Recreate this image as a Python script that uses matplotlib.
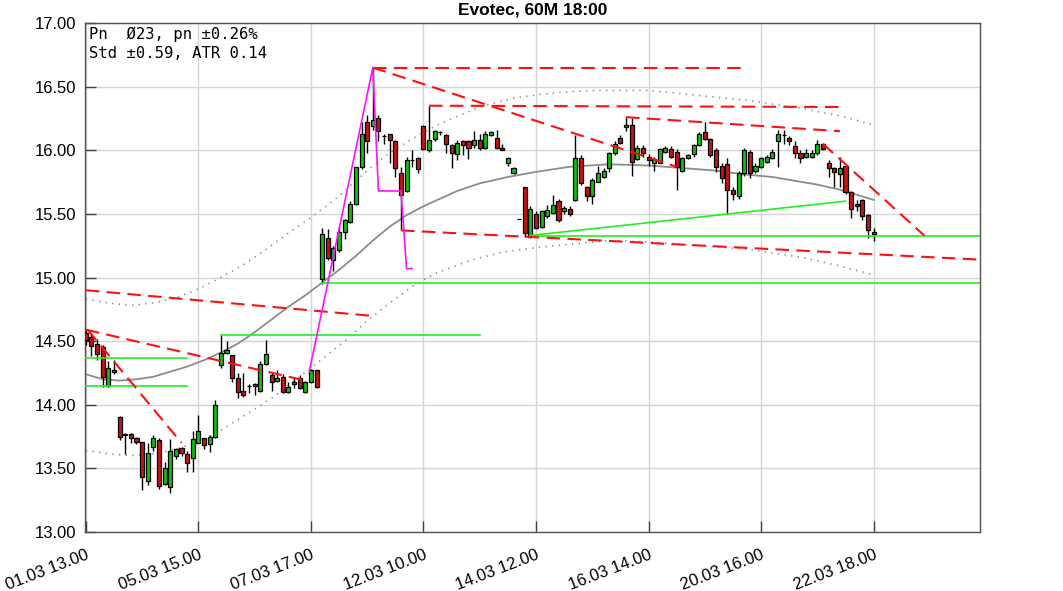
import numpy as np
import matplotlib
matplotlib.use("Agg")
import matplotlib.pyplot as plt
from matplotlib.ticker import FormatStrFormatter

# ============================================================
# DATA (hourly candles, bar index 0 = 01.03 13:00)
# ============================================================

opens = [
    14.56, 14.53, 14.48, 14.45, 14.15, 14.26, 13.90, 13.77, 13.77, 13.74,
    13.71, 13.40, 13.67, 13.72, 13.38, 13.35, 13.60, 13.66, 13.61, 13.58,
    13.70, 13.74, 13.69, 13.75, 14.31, 14.41, 14.39, 14.21, 14.11, 14.15,
    14.15, 14.11, 14.32, 14.23, 14.19, 14.22, 14.10, 14.16, 14.21, 14.10,
    14.18, 14.27, 14.99, 15.31, 15.14, 15.22, 15.36, 15.44, 15.58, 15.87,
    16.22, 16.19, 16.25, 16.11, 16.13, 16.07, 15.82, 15.68, 15.92, 15.94,
    16.19, 16.00, 16.09, 16.14, 16.12, 16.04, 15.97, 16.07, 16.07, 16.04,
    16.08, 16.02, 16.12, 16.10, 16.02, 15.90, 15.82, 15.46, 15.71, 15.32,
    15.50, 15.40, 15.48, 15.51, 15.60, 15.52, 15.54, 15.61, 15.94, 15.71,
    15.64, 15.75, 15.79, 15.86, 15.98, 16.10, 16.18, 16.20, 15.93, 16.02,
    15.95, 15.90, 15.90, 15.99, 16.01, 15.99, 15.84, 15.94, 15.97, 16.04,
    16.14, 16.09, 16.00, 15.88, 15.89, 15.69, 15.64, 15.82, 15.99, 15.84,
    15.87, 15.91, 15.94, 16.07, 16.12, 16.10, 16.03, 15.98, 15.95, 15.95,
    15.98, 16.05, 15.90, 15.86, 15.81, 15.88, 15.67, 15.58, 15.61, 15.49,
    15.34,
]
highs = [
    14.59, 14.56, 14.52, 14.47, 14.34, 14.35, 13.91, 13.78, 13.78, 13.75,
    13.71, 13.70, 13.76, 13.74, 13.55, 13.73, 13.66, 13.67, 13.64, 13.79,
    13.92, 13.74, 13.76, 14.04, 14.55, 14.50, 14.39, 14.25, 14.25, 14.16,
    14.17, 14.34, 14.51, 14.25, 14.27, 14.24, 14.18, 14.22, 14.23, 14.19,
    14.28, 14.27, 15.39, 15.38, 15.25, 15.40, 15.46, 15.60, 15.87, 16.22,
    16.28, 16.65, 16.28, 16.13, 16.13, 16.08, 15.87, 15.95, 16.00, 15.95,
    16.20, 16.35, 16.16, 16.15, 16.13, 16.05, 16.08, 16.08, 16.08, 16.15,
    16.13, 16.15, 16.15, 16.16, 16.05, 15.95, 15.87, 15.46, 15.71, 15.56,
    15.52, 15.53, 15.57, 15.65, 15.62, 15.56, 15.56, 16.12, 15.96, 15.72,
    15.78, 15.88, 15.86, 15.99, 16.07, 16.12, 16.26, 16.25, 16.04, 16.04,
    15.97, 15.95, 16.02, 16.03, 16.03, 16.01, 15.95, 15.97, 16.05, 16.14,
    16.22, 16.10, 16.02, 15.90, 15.94, 15.71, 15.84, 16.02, 16.00, 15.90,
    15.95, 15.96, 16.01, 16.16, 16.16, 16.11, 16.07, 16.00, 16.01, 16.00,
    16.08, 16.06, 15.92, 15.87, 15.95, 15.88, 15.68, 15.61, 15.62, 15.50,
    15.39,
]
lows = [
    14.47, 14.38, 14.35, 14.14, 14.14, 14.24, 13.72, 13.61, 13.70, 13.69,
    13.33, 13.37, 13.64, 13.34, 13.37, 13.31, 13.57, 13.60, 13.47, 13.47,
    13.70, 13.65, 13.63, 13.74, 14.29, 14.40, 14.18, 14.05, 14.06, 14.09,
    14.08, 14.10, 14.31, 14.11, 14.18, 14.09, 14.09, 14.13, 14.12, 14.09,
    14.17, 14.13, 14.95, 15.14, 15.05, 15.20, 15.30, 15.43, 15.57, 15.85,
    15.98, 16.16, 16.07, 16.05, 15.90, 15.79, 15.37, 15.67, 15.87, 15.82,
    16.00, 15.99, 16.07, 16.12, 15.98, 15.86, 15.92, 15.96, 15.93, 16.02,
    16.00, 16.01, 16.11, 16.01, 16.00, 15.88, 15.81, 15.46, 15.32, 15.31,
    15.38, 15.39, 15.47, 15.50, 15.44, 15.50, 15.48, 15.60, 15.73, 15.60,
    15.58, 15.75, 15.78, 15.83, 15.96, 16.05, 16.15, 15.80, 15.92, 15.95,
    15.88, 15.84, 15.90, 15.98, 15.94, 15.69, 15.83, 15.93, 15.95, 16.03,
    16.08, 15.95, 15.83, 15.74, 15.50, 15.61, 15.62, 15.80, 15.78, 15.82,
    15.86, 15.90, 15.93, 15.87, 16.05, 16.04, 15.94, 15.90, 15.94, 15.94,
    15.96, 16.00, 15.79, 15.71, 15.71, 15.66, 15.47, 15.52, 15.45, 15.31,
    15.29,
]
closes = [
    14.51, 14.46, 14.40, 14.22, 14.29, 14.27, 13.75, 13.76, 13.74, 13.71,
    13.43, 13.62, 13.74, 13.36, 13.50, 13.64, 13.65, 13.62, 13.54, 13.73,
    13.79, 13.68, 13.75, 14.00, 14.41, 14.43, 14.21, 14.10, 14.08, 14.15,
    14.16, 14.32, 14.40, 14.18, 14.21, 14.10, 14.14, 14.18, 14.13, 14.18,
    14.27, 14.14, 15.34, 15.15, 15.23, 15.36, 15.45, 15.58, 15.87, 16.13,
    16.07, 16.24, 16.15, 16.11, 16.08, 15.86, 15.65, 15.92, 15.92, 15.85,
    16.01, 16.08, 16.15, 16.14, 16.05, 15.98, 16.06, 16.04, 16.02, 16.08,
    16.02, 16.13, 16.14, 16.02, 16.00, 15.94, 15.86, 15.46, 15.35, 15.54,
    15.39, 15.52, 15.53, 15.57, 15.45, 15.55, 15.50, 15.94, 15.74, 15.64,
    15.77, 15.82, 15.84, 15.98, 16.05, 16.06, 16.20, 15.91, 16.02, 15.98,
    15.92, 15.93, 16.01, 16.02, 15.95, 15.87, 15.94, 15.96, 16.04, 16.13,
    16.09, 15.96, 15.87, 15.78, 15.69, 15.66, 15.82, 16.00, 15.82, 15.88,
    15.94, 15.95, 15.99, 16.13, 16.12, 16.07, 15.98, 15.94, 15.98, 15.98,
    16.05, 16.01, 15.86, 15.83, 15.86, 15.67, 15.54, 15.56, 15.48, 15.37,
    15.36,
]

tick_bars = [0, 20, 40, 60, 80, 100, 120, 140]
tick_labels = [
    "01.03 13.00", "05.03 15.00", "07.03 17.00", "12.03 10.00",
    "14.03 12.00", "16.03 14.00", "20.03 16.00", "22.03 18.00",
]

# smoothed average and its +/- std band, read at a few bars
ma_bars = [0, 3, 6, 9, 12, 15, 18, 21, 24, 27, 30, 33, 36, 39, 42, 45, 48,
           51, 54, 57, 60, 63, 66, 70, 75, 80, 86, 93, 100, 106, 112, 117,
           122, 126, 130, 134, 137, 140]
ma_vals = [14.24, 14.20, 14.19, 14.20, 14.22, 14.26, 14.30, 14.35, 14.41,
           14.48, 14.57, 14.67, 14.77, 14.86, 14.96, 15.06, 15.17, 15.29,
           15.40, 15.49, 15.56, 15.62, 15.68, 15.74, 15.79, 15.83, 15.87,
           15.89, 15.88, 15.86, 15.84, 15.81, 15.79, 15.76, 15.73, 15.69,
           15.65, 15.61]

upper_bars = [0, 4, 8, 12, 16, 20, 24, 28, 32, 36, 40, 45, 50, 54, 58, 63,
              70, 76, 81, 86, 91, 100, 109, 118, 127, 134, 140]
upper_vals = [14.83, 14.80, 14.78, 14.80, 14.84, 14.91, 15.00, 15.10, 15.22,
              15.35, 15.47, 15.64, 15.84, 15.98, 16.09, 16.21, 16.34, 16.41,
              16.44, 16.46, 16.47, 16.47, 16.43, 16.39, 16.33, 16.27, 16.20]

lower_bars = [0, 5, 9, 13, 16, 20, 24, 28, 33, 38, 42, 46, 50, 54, 58, 62,
              68, 74, 81, 93, 100, 109, 118, 127, 134, 140]
lower_vals = [13.64, 13.61, 13.60, 13.62, 13.65, 13.71, 13.80, 13.91, 14.05,
              14.22, 14.36, 14.50, 14.66, 14.80, 14.93, 15.03, 15.13, 15.20,
              15.24, 15.29, 15.28, 15.25, 15.22, 15.16, 15.09, 15.02]

# trend lines: (bar0, price0, bar1, price1)
red_lines = [
    (0, 14.90, 50.5, 14.70),
    (0, 14.59, 39, 14.19),
    (0.3, 14.59, 17, 13.70),
    (51, 16.65, 116.5, 16.65),
    (51, 16.65, 105, 15.87),
    (61, 16.35, 134, 16.34),
    (96, 16.26, 134, 16.15),
    (131, 16.05, 149, 15.33),
    (56, 15.37, 159, 15.14),
]
green_lines = [
    (0, 14.37, 18, 14.37),
    (0, 14.15, 18, 14.15),
    (24, 14.55, 70, 14.55),
    (42, 14.96, 159, 14.96),
    (79, 15.33, 159, 15.33),
    (79, 15.33, 135, 15.60),
]
zigzag_bars = [39.7, 51, 52, 56, 57, 58]
zigzag_vals = [14.26, 16.65, 15.68, 15.68, 15.07, 15.07]


# ============================================================
# FIGURE
# ============================================================

fig = plt.figure(figsize=(10.63, 5.91), dpi=100)
ax = fig.add_axes([85 / 1063, 59 / 591, 895 / 1063, 509 / 591])

ax.set_xlim(-0.15, 158.9)
ax.set_ylim(13.0, 17.0)
ax.set_yticks(np.arange(13.0, 17.01, 0.5))
ax.yaxis.set_major_formatter(FormatStrFormatter("%.2f"))
ax.set_xticks(tick_bars)
ax.set_xticklabels(
    tick_labels, rotation=21, ha="right", rotation_mode="anchor",
    family=["Liberation Sans Narrow", "Liberation Sans", "DejaVu Sans"],
    fontsize=12,
)
for lab in ax.get_yticklabels():
    lab.set_family(["Liberation Sans", "DejaVu Sans"])
    lab.set_fontsize(12)

ax.tick_params(direction="in", length=8, width=1, color="#404040")
ax.tick_params(axis="x", pad=11)
ax.tick_params(axis="y", pad=6)
ax.grid(True, color="#d4d4d4", linewidth=1)
ax.set_axisbelow(True)
for sp in ax.spines.values():
    sp.set_color("#505050")
    sp.set_linewidth(1)

# ============================================================
# INDICATORS
# ============================================================

ax.plot(ma_bars, ma_vals, color="#8c8c8c", linewidth=1.3, zorder=2)
ax.plot(upper_bars, upper_vals, color="#8c8c8c", linewidth=1.2,
        linestyle=(0, (0.8, 3.2)), zorder=2)
ax.plot(lower_bars, lower_vals, color="#8c8c8c", linewidth=1.2,
        linestyle=(0, (0.8, 3.2)), zorder=2)

# ============================================================
# CANDLES
# ============================================================

bars = np.arange(len(opens))
o = np.array(opens)
c = np.array(closes)
up = c >= o
body_low = np.minimum(o, c)
body_h = np.abs(c - o)

ax.vlines(bars, lows, highs, color="black", linewidth=1, zorder=3)
ax.bar(bars[up], body_h[up], bottom=body_low[up], width=0.72,
       color="#10c010", edgecolor="black", linewidth=0.9, zorder=4)
ax.bar(bars[~up], body_h[~up], bottom=body_low[~up], width=0.72,
       color="#c81414", edgecolor="black", linewidth=0.9, zorder=4)

# ============================================================
# TREND LINES
# ============================================================

for x0, y0, x1, y1 in green_lines:
    ax.plot([x0, x1], [y0, y1], color="#22ee22", linewidth=1.2, zorder=5)

for x0, y0, x1, y1 in red_lines:
    ax.plot([x0, x1], [y0, y1], color="#ff1010", linewidth=1.5,
            linestyle=(0, (6.5, 3.5)), zorder=5)

ax.plot(zigzag_bars, zigzag_vals, color="#ff10ff", linewidth=1.2, zorder=5)

# ============================================================
# TEXT
# ============================================================

ax.set_title("Evotec, 60M 18:00", fontsize=12.5, fontweight="bold",
             family=["Liberation Sans", "DejaVu Sans"], pad=6)
ax.text(0.004, 0.992, "Pn  \u00d823, pn \u00b10.26%\nStd \u00b10.59, ATR 0.14",
        transform=ax.transAxes, va="top", ha="left",
        family="DejaVu Sans Mono", fontsize=11.2, linespacing=1.3,
        zorder=6)

fig.savefig("out.png", dpi=100)
plt.close(fig)
